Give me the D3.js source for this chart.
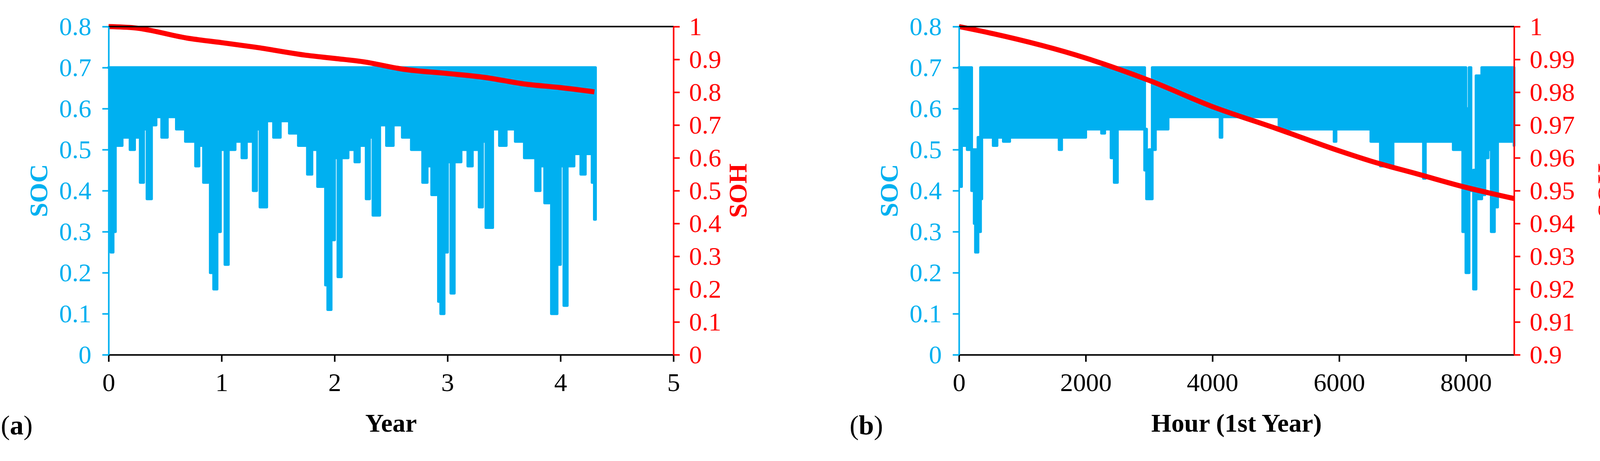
<!DOCTYPE html>
<html><head><meta charset="utf-8">
<script src="https://cdn.jsdelivr.net/npm/d3@7"></script>
<style>body{margin:0;background:#fff}text{font-family:"Liberation Serif","Times New Roman",serif}</style>
</head><body><div id="chart"></div>
<script>
// panel (a) data: SOC lower envelope per year, upper is 0.7
var yearsA = [0,0.01,0.02,0.04,0.06,0.12,0.19,0.23,0.28,0.31,0.34,0.38,0.42,0.47,0.52,0.6,0.68,0.77,0.8,0.84,0.88,0.9,0.93,0.96,0.99,1.03,1.06,1.12,1.18,1.22,1.28,1.31,1.34,1.4,1.46,1.52,1.6,1.68,1.76,1.8,1.85,1.9,1.92,1.94,1.97,2.0,2.03,2.06,2.12,2.18,2.22,2.28,2.31,2.34,2.4,2.46,2.52,2.6,2.68,2.78,2.82,2.86,2.9,2.92,2.94,2.97,3.0,3.03,3.06,3.12,3.18,3.22,3.28,3.31,3.34,3.4,3.46,3.52,3.6,3.68,3.78,3.82,3.86,3.9,3.92,3.95,3.97,4.0,4.03,4.06,4.12,4.18,4.22,4.28,4.3,4.31];
var socLowA = [0.7,0.4,0.25,0.3,0.51,0.53,0.5,0.53,0.42,0.55,0.38,0.56,0.58,0.53,0.58,0.55,0.52,0.46,0.51,0.42,0.5,0.2,0.16,0.3,0.5,0.22,0.5,0.52,0.48,0.52,0.4,0.55,0.36,0.57,0.53,0.57,0.54,0.51,0.44,0.5,0.41,0.47,0.17,0.11,0.28,0.48,0.19,0.48,0.5,0.47,0.51,0.38,0.53,0.34,0.56,0.51,0.56,0.53,0.5,0.42,0.46,0.39,0.47,0.13,0.1,0.25,0.47,0.15,0.47,0.5,0.46,0.5,0.36,0.52,0.31,0.55,0.51,0.55,0.52,0.48,0.4,0.46,0.37,0.46,0.1,0.1,0.22,0.46,0.12,0.46,0.49,0.44,0.49,0.42,0.33,0.52];
var sohYearsA = [0,0.23,0.71,1.0,1.3,1.74,2.0,2.25,2.61,3.0,3.33,3.68,4.0,4.3];
var sohA = [1.0,0.996,0.964,0.951,0.937,0.913,0.903,0.893,0.870,0.857,0.845,0.825,0.814,0.801];

// panel (b) data: first year, hourly
var hoursB = [0,20,40,100,130,200,240,260,300,340,360,500,540,600,700,800,1000,1500,1580,1620,1950,2000,2200,2250,2300,2400,2450,2500,2900,2930,2960,3000,3050,3100,3250,3300,4100,4120,4150,5000,5050,5900,5920,5950,6400,6500,6600,6650,6800,6850,7300,7330,7360,7700,7800,7900,7950,8000,8050,8080,8120,8160,8250,8300,8350,8400,8450,8500,8760];
var socLowB = [0.7,0.41,0.51,0.52,0.5,0.4,0.32,0.25,0.3,0.38,0.53,0.53,0.51,0.53,0.52,0.53,0.53,0.53,0.5,0.53,0.53,0.55,0.55,0.54,0.55,0.48,0.42,0.55,0.55,0.45,0.38,0.38,0.5,0.55,0.55,0.58,0.58,0.53,0.58,0.58,0.55,0.55,0.52,0.55,0.55,0.52,0.52,0.46,0.46,0.52,0.52,0.43,0.52,0.52,0.5,0.5,0.3,0.2,0.4,0.4,0.16,0.38,0.39,0.48,0.5,0.3,0.36,0.52,0.51];
var socHighB = [0.7,0.7,0.7,0.7,0.7,0.5,0.5,0.5,0.53,0.7,0.7,0.7,0.7,0.7,0.7,0.7,0.7,0.7,0.7,0.7,0.7,0.7,0.7,0.7,0.7,0.7,0.7,0.7,0.7,0.55,0.45,0.5,0.7,0.7,0.7,0.7,0.7,0.7,0.7,0.7,0.7,0.7,0.7,0.7,0.7,0.7,0.7,0.7,0.7,0.7,0.7,0.7,0.7,0.7,0.7,0.7,0.7,0.6,0.7,0.4,0.45,0.68,0.7,0.7,0.7,0.7,0.7,0.7,0.7];
var sohHoursB = [0,500,2000,3000,4000,5015,6020,6500,7250,8000,8760];
var sohB = [1.0,0.998,0.9904,0.9836,0.9756,0.9689,0.962,0.959,0.955,0.951,0.9476];

var socTicks = [0,0.1,0.2,0.3,0.4,0.5,0.6,0.7,0.8];
var cyan = "#00b0f0", red = "#ff0000";

var svg = d3.select("#chart").append("svg").attr("width", 4193).attr("height", 1180);

function panel(opt) {
  var x = d3.scaleLinear().domain(opt.xDomain).range([opt.left, opt.right]);
  var y = d3.scaleLinear().domain([0, 0.8]).range([908, 68]);
  var y2 = d3.scaleLinear().domain(opt.sohDomain).range([908, 68]);
  var g = svg.append("g");

  // SOC band
  var pts = opt.xs.map(function(v, i) { return {x: v, lo: opt.lo[i], hi: opt.hi ? opt.hi[i] : 0.7}; });
  var area = d3.area().curve(d3.curveStepAfter).x(function(d) { return x(d.x); })
      .y0(function(d) { return y(d.lo); }).y1(function(d) { return y(d.hi); });
  g.append("path").datum(pts).attr("d", area).attr("fill", cyan)
      .attr("stroke", cyan).attr("stroke-width", 7).attr("stroke-linejoin", "round");

  // SOH line
  var sp = opt.sohX.map(function(v, i) { return [v, opt.soh[i]]; });
  g.append("path").datum(sp)
      .attr("d", d3.line().curve(d3.curveMonotoneX).x(function(d) { return x(d[0]); }).y(function(d) { return y2(d[1]); }))
      .attr("fill", "none").attr("stroke", red).attr("stroke-width", 13);

  // top border
  g.append("line").attr("x1", opt.left).attr("x2", opt.right).attr("y1", 68).attr("y2", 68)
      .attr("stroke", "#000").attr("stroke-width", 4);

  var fs = 66;
  function styleText(sel, color) {
    sel.selectAll("text").attr("font-size", fs).attr("fill", color).attr("font-family", "Liberation Serif");
  }
  // bottom axis
  var xa = g.append("g").attr("transform", "translate(0,908)")
      .call(d3.axisBottom(x).tickValues(opt.xTicks).tickFormat(d3.format("d")).tickSize(18).tickSizeOuter(0).tickPadding(28));
  xa.select(".domain").attr("stroke", "#000").attr("stroke-width", 4);
  xa.selectAll("line").attr("stroke", "#000").attr("stroke-width", 4);
  styleText(xa, "#000");

  // left axis
  var ya = g.append("g").attr("transform", "translate(" + opt.left + ",0)")
      .call(d3.axisLeft(y).tickValues(socTicks).tickFormat(function(d) { return d === 0 ? "0" : d3.format(".1f")(d); }).tickSize(16).tickSizeOuter(0).tickPadding(28));
  ya.select(".domain").attr("stroke", cyan).attr("stroke-width", 4);
  ya.selectAll("line").attr("stroke", cyan).attr("stroke-width", 4);
  styleText(ya, cyan);

  // right axis
  var ra = g.append("g").attr("transform", "translate(" + opt.right + ",0)")
      .call(d3.axisRight(y2).tickValues(opt.sohTicks).tickFormat(opt.sohFmt).tickSize(16).tickSizeOuter(0).tickPadding(24));
  ra.select(".domain").attr("stroke", red).attr("stroke-width", 4);
  ra.selectAll("line").attr("stroke", red).attr("stroke-width", 4);
  styleText(ra, red);

  // titles
  g.append("text").attr("transform", "translate(" + (opt.left - 180) + ",488) rotate(-90)")
      .attr("text-anchor", "middle").attr("dy", "0.35em").attr("font-size", fs).attr("font-weight", "bold").attr("fill", cyan).text("SOC");
  g.append("text").attr("transform", "translate(" + (opt.sohTitleX) + ",488) rotate(-90)")
      .attr("text-anchor", "middle").attr("dy", "0.35em").attr("font-size", fs).attr("font-weight", "bold").attr("fill", red).text("SOH");
  g.append("text").attr("x", (opt.left + opt.right) / 2).attr("y", 1105)
      .attr("text-anchor", "middle").attr("font-size", fs).attr("font-weight", "bold").attr("fill", "#000").text(opt.xTitle);
  g.append("text").attr("x", opt.tagX).attr("y", 1112).attr("font-size", 70).attr("fill", "#000")
      .html("(<tspan font-weight='bold'>" + opt.tag + "</tspan>)");
}

panel({left: 278, right: 1724, xDomain: [0, 5], xTicks: [0,1,2,3,4,5],
  xs: yearsA, lo: socLowA, sohX: sohYearsA, soh: sohA,
  sohDomain: [0, 1], sohTicks: d3.range(0, 11).map(function(i) { return i / 10; }),
  sohFmt: function(d) { return d === 0 ? "0" : d === 1 ? "1" : d3.format(".1f")(d); },
  sohTitleX: 1888, xTitle: "Year", tag: "a", tagX: 2});

panel({left: 2455, right: 3876, xDomain: [0, 8760], xTicks: [0,2000,4000,6000,8000],
  xs: hoursB, lo: socLowB, hi: socHighB, sohX: sohHoursB, soh: sohB,
  sohDomain: [0.9, 1], sohTicks: d3.range(0, 11).map(function(i) { return 0.9 + i / 100; }),
  sohFmt: function(d) { return Math.abs(d - 1) < 1e-9 ? "1" : Math.abs(d - 0.9) < 1e-9 ? "0.9" : d3.format(".2f")(d); },
  sohTitleX: 4112, xTitle: "Hour (1st Year)", tag: "b", tagX: 2175});
</script></body></html>
